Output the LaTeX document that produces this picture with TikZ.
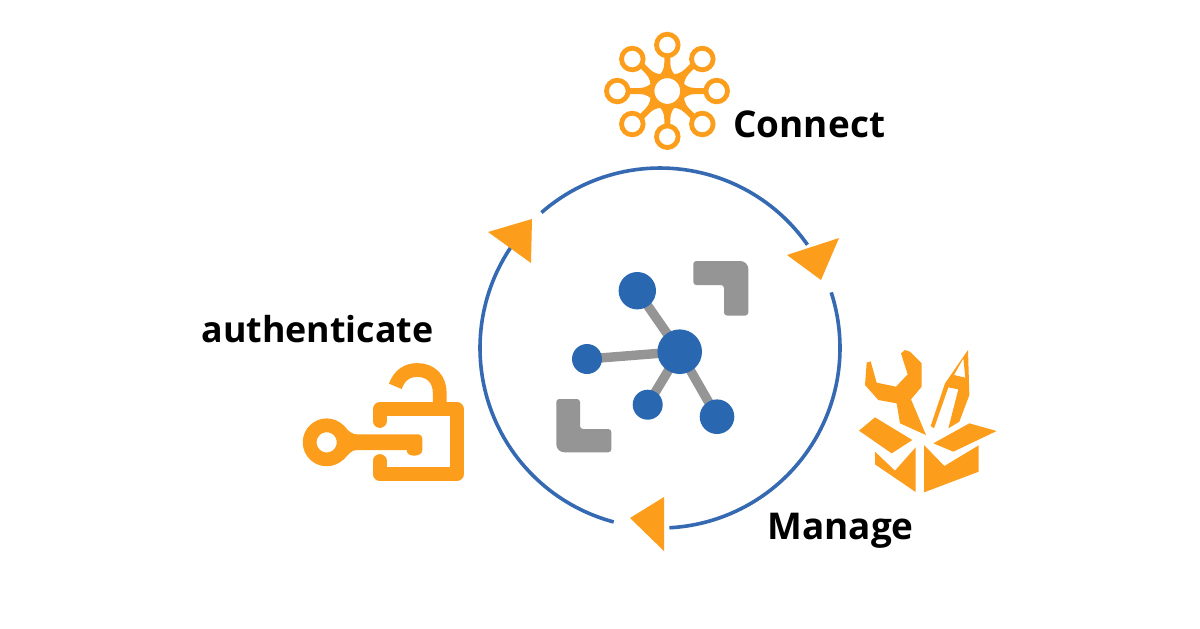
\documentclass[tikz,border=0pt]{standalone}
\usepackage{fontspec}
\setmainfont{Open Sans}
\definecolor{org}{HTML}{FC9D1C}
\definecolor{blu}{HTML}{2A67B1}
\definecolor{rng}{HTML}{3569B2}
\definecolor{gry}{HTML}{959595}
\tikzset{
  ringline/.style={draw=rng,line width=1.8pt},
  tip/.style={fill=org,draw=none},
  netnode/.style={circle,fill=blu,draw=none,inner sep=0pt},
  netlink/.style={draw=gry,line width=4.7pt},
  bracket/.style={fill=gry,draw=none,rounded corners=1.5pt},
  sat/.style={circle,draw=org,fill=white,line width=2.4pt,inner sep=0pt,minimum size=10.8pt},
  label/.style={inner sep=0pt,anchor=base west},
  zoomA/.style={x=0.16667pt,y=-0.16667pt},
  stroke/.style={draw=org,line width=6.9pt,line cap=round,line join=round},
}
\newcommand{\lab}[1]{\fontsize{#1}{20pt}\selectfont\bfseries}
\begin{document}
\begin{tikzpicture}[x=0.5pt,y=-0.5pt]
\useasboundingbox (0,0) rectangle (1200,628);
\fill[white] (0,0) rectangle (1200,628);

% ring
\coordinate (c) at (660,348);
\draw[ringline] (c) ++(228.8:180) arc[start angle=228.8,end angle=325,radius=180];
\draw[ringline] (c) ++(-18:180) arc[start angle=-18,end angle=87,radius=180];
\draw[ringline] (c) ++(104.9:180) arc[start angle=104.9,end angle=216,radius=180];
\fill[tip] (787,255) -- (839,238) -- (821,280) -- cycle;
\fill[tip] (630,518) -- (664,497) -- (664,551) -- cycle;
\fill[tip] (488,232) -- (532,219) -- (531,263) -- cycle;

% network
\coordinate (phub) at (679.7,351.7);
\coordinate (p1) at (637.3,290.7);
\coordinate (p2) at (587,359);
\coordinate (p3) at (647.7,404.7);
\coordinate (p4) at (717,416.7);
\draw[netlink] (phub) -- (p1);
\draw[netlink] (phub) -- (p2);
\draw[netlink] (phub) -- (p3);
\draw[netlink] (phub) -- (p4);
\node[netnode,minimum size=22.3pt] (hub) at (phub) {};
\node[netnode,minimum size=18.7pt] (n1) at (p1) {};
\node[netnode,minimum size=15pt] (n2) at (p2) {};
\node[netnode,minimum size=15pt] (n3) at (p3) {};
\node[netnode,minimum size=17.3pt] (n4) at (p4) {};
\fill[bracket] (693.3,261) [rounded corners=4pt] -- (748.3,261) [rounded corners=1.5pt] -- (748.3,315.5) -- (724,315.5) -- (724,285) -- (693.3,285) -- cycle;
\fill[bracket] (556.3,399) -- (580,399) -- (580,429) -- (611.3,429) -- (611.3,452.3) [rounded corners=4pt] -- (556.3,452.3) [rounded corners=1.5pt] -- cycle;

% connect icon
\foreach \a/\d in {0/45,45/47,90/45,135/47,180/45,225/47,270/46,315/47}{
  \fill[org,shift={(667.3,91)},rotate=\a] (13,-10) .. controls (18,-6) and (21,-3) .. (28,-3) -- (\d,-3) -- (\d,3) -- (28,3) .. controls (21,3) and (18,6) .. (13,10) -- cycle;
}
\node[sat,minimum size=15.3pt] (chub) at (667.3,91) {};
\node[sat] (s1) at (667.3,45) {};
\node[sat] (s2) at (632.3,59) {};
\node[sat] (s3) at (702.3,59) {};
\node[sat] (s4) at (617.3,91) {};
\node[sat] (s5) at (716.7,91) {};
\node[sat] (s6) at (632.3,124) {};
\node[sat] (s7) at (702.3,124) {};
\node[sat] (s8) at (667.3,136.7) {};

% lock icon
\begin{scope}[shift={(290,355)},zoomA]
\draw[stroke] (269,198) -- (269,162) -- (500,162) -- (500,358) -- (269,358) -- (269,318);
\draw[stroke,line cap=butt] (316,94) .. controls (328,60) and (352,45) .. (382,45) .. controls (425,45) and (449,75) .. (449,112) -- (449,160);
\draw[stroke] (110,262) circle[radius=51];
\fill[org] (160,210) .. controls (175,228) and (185,238) .. (200,238) -- (385,238) .. controls (393,238) and (397,244) .. (397,252) -- (397,285) .. controls (397,297) and (385,302) .. (372,302) .. controls (358,302) and (350,295) .. (350,285) -- (200,285) .. controls (185,285) and (175,297) .. (160,315) -- cycle;
\end{scope}

% tools icon
\begin{scope}[shift={(840,340)},zoomA]
\fill[org] (80,68) -- (92,64) -- (110,128) -- (168,140) -- (203,103) -- (183,40) -- (195,30) -- (210,35) -- (245,70) -- (245,140) -- (213,178) -- (258,285) -- (180,250) -- (170,190) -- (115,180) -- (75,135) -- cycle;
\fill[org,even odd rule] (384,30) -- (388,165) -- (358,245) -- (325,265) -- (355,148) -- (325,142) -- (282,265) -- (272,258) -- (315,130) -- cycle (370,55) -- (376,113) -- (342,105) -- cycle;
\fill[org] (105,232) -- (217,300) -- (155,340) -- (57,272) -- cycle;
\fill[org] (388,250) -- (470,273) -- (340,335) -- (280,310) -- cycle;
\fill[org] (105,335) -- (165,392) -- (227,322) -- (227,456) -- (105,373) -- cycle;
\fill[org] (252,315) -- (313,378) -- (416,316) -- (416,395) -- (252,457) -- cycle;
\end{scope}

% labels
\node[label,font=\lab{18.45pt}] (lc) at (733,137) {Connect};
\node[label,font=\lab{17.9pt}] (la) at (201,342) {authenticate};
\node[label,font=\lab{18.45pt}] (lm) at (767,539) {Manage};
\end{tikzpicture}
\end{document}
